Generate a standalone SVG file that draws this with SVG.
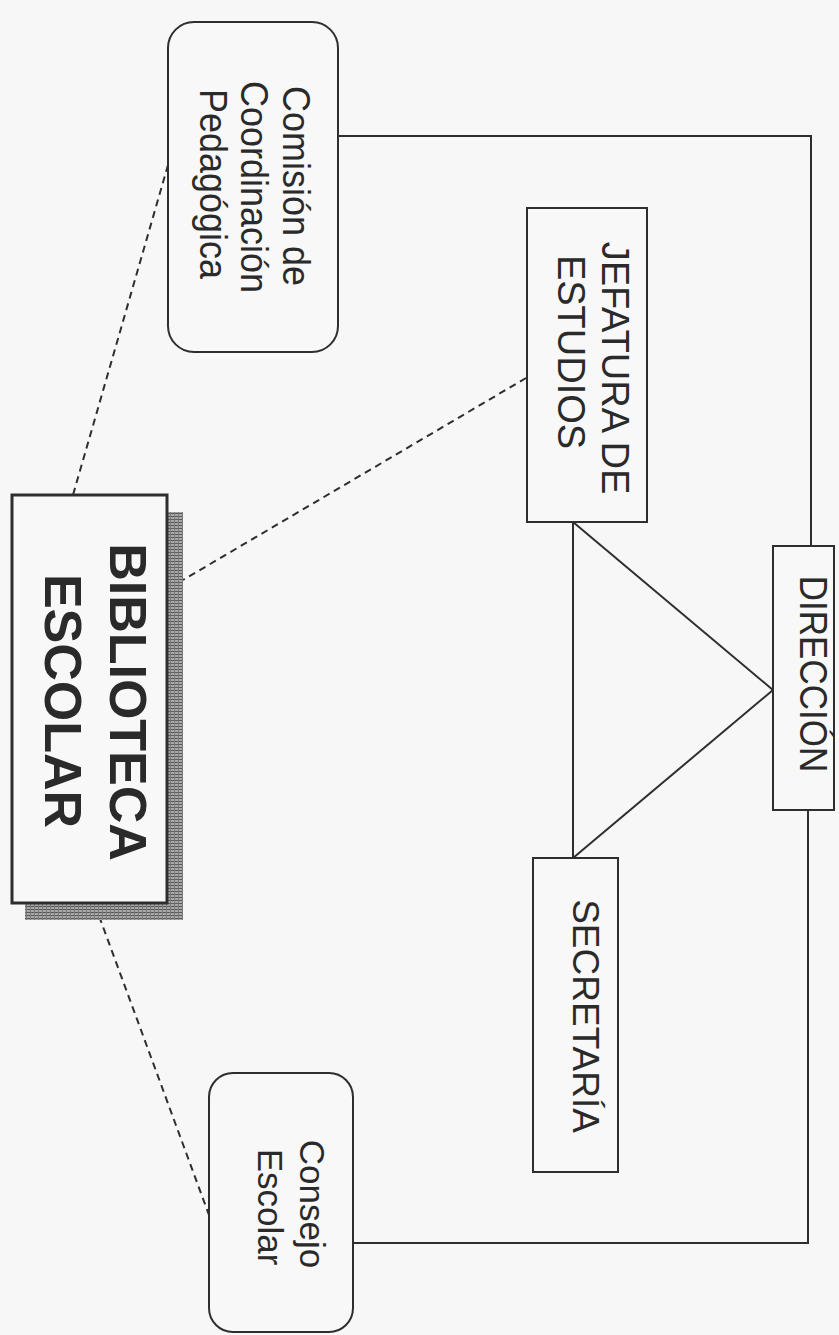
<svg xmlns="http://www.w3.org/2000/svg" width="839" height="1335" viewBox="0 0 839 1335">
<style>
.box{fill:#f8f8f8;stroke:#2e2e2e;stroke-width:2}
.bold{stroke-width:3}
.t{font-family:"Liberation Sans",Arial,sans-serif;fill:#2a2a2a;text-anchor:middle}
.solid{fill:none;stroke:#2e2e2e;stroke-width:2}
.dash{fill:none;stroke:#2e2e2e;stroke-width:2;stroke-dasharray:7 5}
</style>
<defs>
<pattern id="hatch" width="4" height="3" patternUnits="userSpaceOnUse">
<rect width="4" height="3" fill="#a8a8a8"/>
<rect width="4" height="1" fill="#5a5a5a"/>
<rect x="2" width="1" height="3" fill="#7a7a7a"/>
</pattern>
</defs>
<rect width="839" height="1335" fill="#f7f7f7"/>
<g id="connectors">
<polyline class="solid" points="338,136 811,136 811,546"/>
<polyline class="solid" points="808,810 808,1243 353,1243"/>
<line class="solid" x1="573" y1="522" x2="573" y2="858"/>
<line class="solid" x1="573" y1="522" x2="773" y2="690"/>
<line class="solid" x1="573" y1="858" x2="773" y2="690"/>
<line class="dash" x1="168" y1="165" x2="73" y2="495"/>
<line class="dash" x1="526" y1="378" x2="183" y2="580"/>
<line class="dash" x1="95" y1="905" x2="209" y2="1215"/>
</g>
<g id="comision">
<rect class="box" x="168" y="22" width="170" height="330" rx="26"/>
<text class="t" font-size="36" transform="translate(283,186) rotate(90) scale(1,1.1)">Comisión de</text>
<text class="t" font-size="36" transform="translate(241,187) rotate(90) scale(1,1.1)">Coordinación</text>
<text class="t" font-size="36" transform="translate(200,184) rotate(90) scale(1,1.1)">Pedagógica</text>
</g>
<g id="biblioteca">
<rect x="25" y="512" width="158" height="408" fill="url(#hatch)"/>
<rect class="box bold" x="12" y="495" width="155" height="408"/>
<text class="t" font-size="52" font-weight="bold" transform="translate(110,702) rotate(90)">BIBLIOTECA</text>
<text class="t" font-size="52" font-weight="bold" transform="translate(45,701) rotate(90)">ESCOLAR</text>
</g>
<g id="jefatura">
<rect class="box" x="527" y="208" width="120" height="314"/>
<text class="t" font-size="38" transform="translate(602,368) rotate(90)">JEFATURA DE</text>
<text class="t" font-size="38" transform="translate(558,352) rotate(90)">ESTUDIOS</text>
</g>
<g id="secretaria">
<rect class="box" x="533" y="858" width="85" height="314"/>
<text class="t" font-size="37" transform="translate(573,1016) rotate(90)">SECRETARÍA</text>
</g>
<g id="direccion">
<rect class="box" x="773" y="546" width="61" height="264"/>
<text class="t" font-size="35" transform="translate(800,674) rotate(90) scale(1,1.1)">DIRECCIÓN</text>
</g>
<g id="consejo">
<rect class="box" x="209" y="1073" width="144" height="259" rx="24"/>
<text class="t" font-size="35" transform="translate(300,1204) rotate(90)">Consejo</text>
<text class="t" font-size="35" transform="translate(258,1207) rotate(90)">Escolar</text>
</g>
</svg>
